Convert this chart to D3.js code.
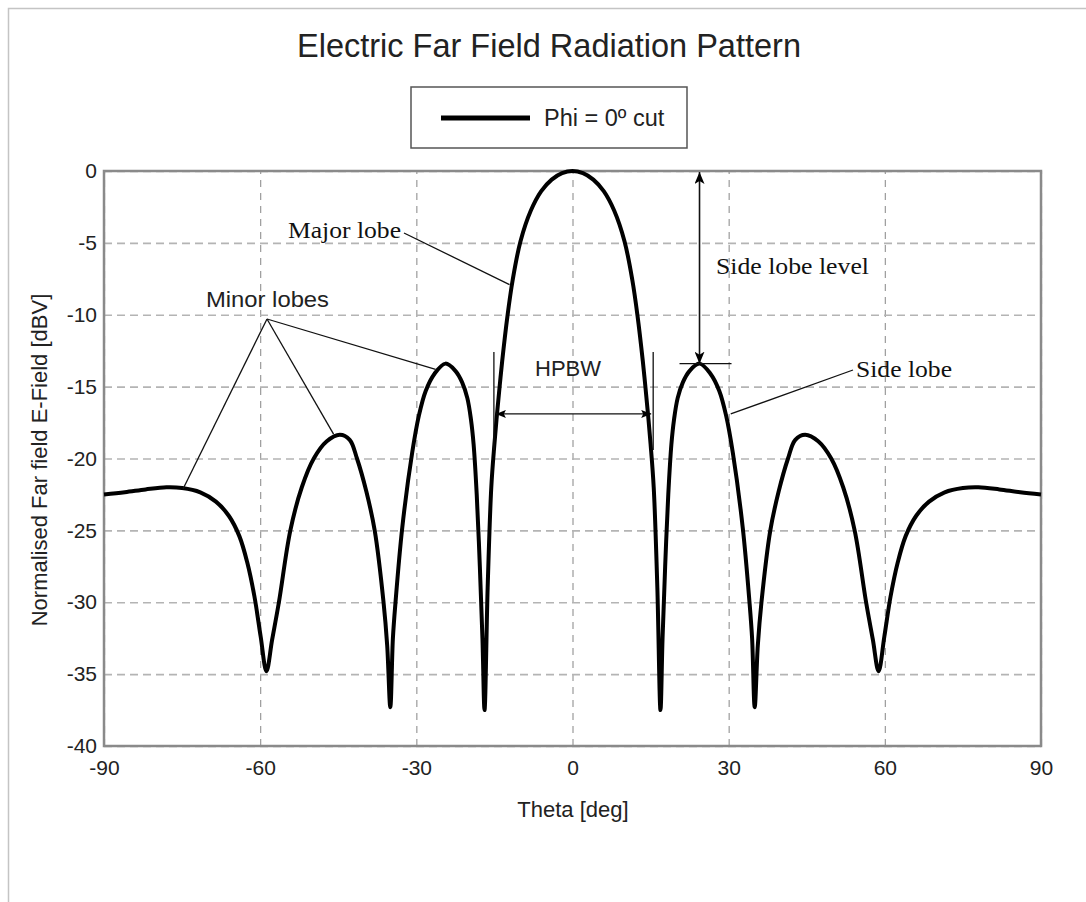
<!DOCTYPE html>
<html>
<head>
<meta charset="utf-8">
<script src="https://cdn.jsdelivr.net/npm/d3@7"></script>
<style>
  body { margin: 0; background: #fff; }
  svg { display: block; }
  text { font-family: "Liberation Sans", Arial, sans-serif; fill: #222; }
  .note { font-family: "Liberation Serif", "Times New Roman", serif; fill: #111; }
</style>
</head>
<body>
<svg width="1086" height="902"></svg>
<script>
// Theta [deg] / normalised E-field [dBV]
const theta = [
  -90, -86, -82, -78, -75, -71.5, -68.5, -66.0, -64.0, -62.5, -61.1, -59.9, -58.8,
  -57.7, -56.4, -54.2, -52.0, -49.7, -47.2, -44.7, -42.8, -41.4, -39.6, -38.0, -36.3, -35.6, -35.0,
  -34.5, -34.0, -32.7, -30.8, -29.5, -28.2, -26.5, -24.4, -22.5, -21.2, -20.2, -19.5, -19.0, -18.4, -17.8, -17.3, -16.9,
  -16.3, -15.6, -15.0, -14.5, -14.0, -13.5, -12.5, -11.5, -10.0, -8.0, -6.0, -4.0, -2.0, 0,
  2.0, 4.0, 6.0, 8.0, 10.0, 11.5, 12.5, 13.5, 14.0, 14.5, 15.0, 15.6, 16.3,
  16.9, 17.3, 17.8, 18.4, 19.0, 19.5, 20.2, 21.2, 22.5, 24.4, 26.5, 28.2, 29.5, 30.8, 32.7, 34.0, 34.5,
  35.0, 35.6, 36.3, 38.0, 39.6, 41.4, 42.8, 44.7, 47.2, 49.7, 52.0, 54.2, 56.4, 57.7,
  58.8, 59.9, 61.1, 62.5, 64.0, 66.0, 68.5, 71.5, 75, 78, 82, 86, 90
];
const fieldDb = [
  -22.5, -22.35, -22.15, -22.0, -22.05, -22.35, -23.0, -24.0, -25.4, -27.2, -29.6, -32.4, -34.8,
  -32.6, -30.0, -25.0, -22.0, -20.0, -18.8, -18.35, -18.7, -20.0, -22.3, -25.0, -30.0, -33.0, -37.3,
  -32.5, -30.0, -24.8, -19.6, -17.0, -15.3, -14.1, -13.4, -13.9, -14.7, -15.8, -17.3, -19.0, -22.5, -27.5, -32.5, -37.5,
  -29.0, -22.0, -19.0, -16.9, -15.0, -13.2, -10.1, -7.6, -4.9, -2.75, -1.4, -0.6, -0.15, 0,
  -0.15, -0.6, -1.4, -2.75, -4.9, -7.6, -10.1, -13.2, -15.0, -16.9, -19.0, -22.0, -29.0,
  -37.5, -32.5, -27.5, -22.5, -19.0, -17.3, -15.8, -14.7, -13.9, -13.4, -14.1, -15.3, -17.0, -19.6, -24.8, -30.0, -32.5,
  -37.3, -33.0, -30.0, -25.0, -22.3, -20.0, -18.7, -18.35, -18.8, -20.0, -22.0, -25.0, -30.0, -32.6,
  -34.8, -32.4, -29.6, -27.2, -25.4, -24.0, -23.0, -22.35, -22.05, -22.0, -22.15, -22.35, -22.5
];

const xTicks = [-90, -60, -30, 0, 30, 60, 90];
const yTicks = [0, -5, -10, -15, -20, -25, -30, -35, -40];

const titleText = "Electric Far Field Radiation Pattern";
const legendLabel = "Phi = 0º cut";
const xLabel = "Theta [deg]";
const yLabel = "Normalised Far field E-Field [dBV]";

// annotation anchors in data units [theta, dB]
const majorLobeTip = [-12.1, -7.9];
const minorLobeTips = [[-74.8, -22.1], [-45.9, -18.3], [-26.3, -13.8]];
const sideLobeTip = [30.4, -16.9];
const sideLobePeak = [24.4, -13.4];
const hpbwEdges = [-15.1, 15.5];
const hpbwLevel = -16.9;

const svg = d3.select("svg");

// outer frame of the figure
svg.append("path")
  .attr("d", "M8.5,902 L8.5,8.5 L1086,8.5")
  .attr("fill", "none")
  .attr("stroke", "#c4c4c4")
  .attr("stroke-width", 1.5);

const area = { left: 104, right: 1041, top: 171, bottom: 746 };

const x = d3.scaleLinear().domain([-90, 90]).range([area.left, area.right]);
const y = d3.scaleLinear().domain([-40, 0]).range([area.bottom, area.top]);

// grid via axes
const gx = svg.append("g")
  .attr("transform", `translate(0,${area.bottom})`)
  .call(d3.axisBottom(x).tickValues(xTicks).tickSize(-(area.bottom - area.top)).tickPadding(10).tickFormat(d => String(d)));
gx.select(".domain").remove();
gx.selectAll("line").attr("stroke", "#9a9a9a").attr("stroke-width", 1.2).attr("stroke-dasharray", "7,6");
gx.selectAll("text").attr("font-size", 21).attr("fill", "#222").attr("dy", "0.9em");

const gy = svg.append("g")
  .attr("transform", `translate(${area.left},0)`)
  .call(d3.axisLeft(y).tickValues(yTicks).tickSize(-(area.right - area.left)).tickPadding(7).tickFormat(d => String(d)));
gy.select(".domain").remove();
gy.selectAll("line").attr("stroke", "#b4b4b4").attr("stroke-width", 1.6).attr("stroke-dasharray", "8,5");
gy.selectAll("text").attr("font-size", 21).attr("fill", "#222");

// plot frame
svg.append("rect")
  .attr("x", area.left).attr("y", area.top)
  .attr("width", area.right - area.left).attr("height", area.bottom - area.top)
  .attr("fill", "none").attr("stroke", "#8a8a8a").attr("stroke-width", 2.5);

// the pattern
const pts = theta.map((t, i) => [t, fieldDb[i]]);
const line = d3.line().x(d => x(d[0])).y(d => y(d[1])).curve(d3.curveCatmullRom.alpha(0.5));
svg.append("path")
  .datum(pts)
  .attr("d", line)
  .attr("fill", "none")
  .attr("stroke", "#000")
  .attr("stroke-width", 4)
  .attr("stroke-linejoin", "round");

// title, axis labels
svg.append("text").attr("x", 549).attr("y", 57).attr("text-anchor", "middle")
  .attr("font-size", 32.5).text(titleText);
svg.append("text").attr("x", 573).attr("y", 817).attr("text-anchor", "middle")
  .attr("font-size", 22).text(xLabel);
svg.append("text").attr("transform", "translate(47,460) rotate(-90)").attr("text-anchor", "middle")
  .attr("font-size", 22).text(yLabel);

// legend
svg.append("rect").attr("x", 411).attr("y", 87).attr("width", 276).attr("height", 61)
  .attr("fill", "#fff").attr("stroke", "#555").attr("stroke-width", 1.5);
svg.append("line").attr("x1", 441).attr("x2", 530).attr("y1", 118).attr("y2", 118)
  .attr("stroke", "#000").attr("stroke-width", 5);
svg.append("text").attr("x", 544).attr("y", 126).attr("font-size", 23.5).text(legendLabel);

// arrow markers
const defs = svg.append("defs");
defs.append("marker").attr("id", "arr").attr("viewBox", "0 0 12 10")
  .attr("refX", 12).attr("refY", 5).attr("markerWidth", 12).attr("markerHeight", 10)
  .attr("markerUnits", "userSpaceOnUse").attr("orient", "auto-start-reverse")
  .append("path").attr("d", "M0,0 L12,5 L0,10 L3,5 Z").attr("fill", "#000");
defs.append("marker").attr("id", "arrs").attr("viewBox", "0 0 10 8")
  .attr("refX", 10).attr("refY", 4).attr("markerWidth", 10).attr("markerHeight", 8)
  .attr("markerUnits", "userSpaceOnUse").attr("orient", "auto-start-reverse")
  .append("path").attr("d", "M0,0 L10,4 L0,8 L2,4 Z").attr("fill", "#000");

const ann = svg.append("g").attr("stroke", "#111").attr("stroke-width", 1.3).attr("fill", "none");

// Major lobe
svg.append("text").attr("class", "note").attr("x", 288).attr("y", 238).attr("font-size", 24)
  .attr("textLength", 113).attr("lengthAdjust", "spacingAndGlyphs").text("Major lobe");
ann.append("line").attr("x1", 404).attr("y1", 233).attr("x2", x(majorLobeTip[0])).attr("y2", y(majorLobeTip[1]));

// Minor lobes
svg.append("text").attr("x", 206).attr("y", 307).attr("font-size", 22)
  .attr("textLength", 123).attr("lengthAdjust", "spacingAndGlyphs").text("Minor lobes");
minorLobeTips.forEach(p => {
  ann.append("line").attr("x1", 267).attr("y1", 319).attr("x2", x(p[0])).attr("y2", y(p[1]));
});

// HPBW
svg.append("text").attr("x", 535).attr("y", 376).attr("font-size", 22).text("HPBW");
hpbwEdges.forEach(t => {
  ann.append("line").attr("x1", x(t)).attr("x2", x(t)).attr("y1", 352).attr("y2", 450);
});
ann.append("line")
  .attr("x1", x(hpbwEdges[0]) + 2).attr("x2", x(hpbwEdges[1]) - 2)
  .attr("y1", y(hpbwLevel)).attr("y2", y(hpbwLevel))
  .attr("marker-start", "url(#arrs)").attr("marker-end", "url(#arrs)");

// Side lobe level
ann.append("line")
  .attr("x1", x(sideLobePeak[0])).attr("x2", x(sideLobePeak[0]))
  .attr("y1", y(0) + 1).attr("y2", y(sideLobePeak[1]))
  .attr("stroke-width", 1.6)
  .attr("marker-start", "url(#arr)").attr("marker-end", "url(#arr)");
ann.append("line")
  .attr("x1", x(sideLobePeak[0]) - 20).attr("x2", x(sideLobePeak[0]) + 32)
  .attr("y1", y(sideLobePeak[1])).attr("y2", y(sideLobePeak[1]));
svg.append("text").attr("class", "note").attr("x", 716).attr("y", 274).attr("font-size", 24)
  .attr("textLength", 153).attr("lengthAdjust", "spacingAndGlyphs").text("Side lobe level");

// Side lobe
svg.append("text").attr("class", "note").attr("x", 856).attr("y", 377).attr("font-size", 24)
  .attr("textLength", 96).attr("lengthAdjust", "spacingAndGlyphs").text("Side lobe");
ann.append("line").attr("x1", 853).attr("y1", 370).attr("x2", x(sideLobeTip[0])).attr("y2", y(sideLobeTip[1]));
</script>
</body>
</html>
